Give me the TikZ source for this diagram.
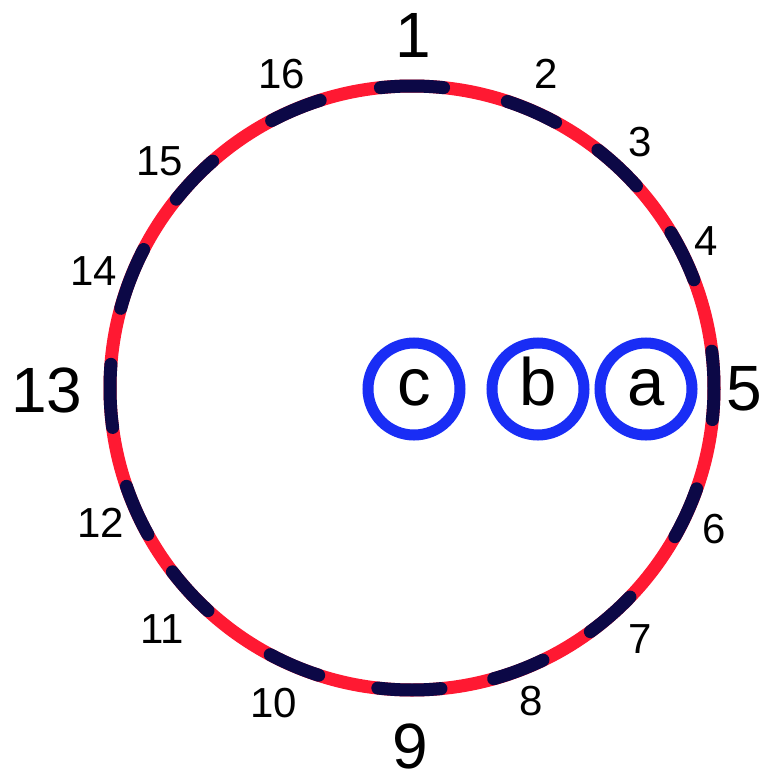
\documentclass[tikz,border=0pt]{standalone}
\usepackage{fontspec}
\setmainfont{Liberation Sans}
\definecolor{ringred}{RGB}{255,25,50}
\definecolor{segdark}{RGB}{12,8,70}
\definecolor{ballblue}{RGB}{25,45,245}
\begin{document}
\begin{tikzpicture}[x=1pt,y=-1pt,
  big/.style={font=\fontsize{64}{64}\selectfont, inner sep=0, anchor=base},
  small/.style={font=\fontsize{42}{42}\selectfont, inner sep=0, anchor=base},
  ball/.style={circle, draw=ballblue, line width=11pt, minimum size=92pt, inner sep=0,
    font=\fontsize{67}{67}\selectfont, text height=32pt, text depth=0pt},
  seg/.style={draw=segdark, line width=13pt, line cap=round}]
\useasboundingbox (0,0) rectangle (765,777);
\coordinate (O) at (412,388);
\draw[ringred, line width=13pt] (O) circle[radius=302];
\foreach \a/\w in {90/12, 66.6/10, 47/10, 26/10, 0.5/13, -24.5/10, -48.8/10, -69.3/10,
  -90.5/12, 247/10, 222.5/10, 204/10, 181.5/12, 158.7/12, 136.3/10, 112.7/10} {
  \pgfmathsetmacro{\sa}{-\a+\w/2}
  \pgfmathsetmacro{\ea}{-\a-\w/2}
  \draw[seg] (O) ++(\sa:302) arc[start angle=\sa, end angle=\ea, radius=302];
}
\node[ball] (c) at (414,389) {c};
\node[ball] (b) at (538,389) {b};
\node[ball] (a) at (646,389) {a};
\node[big] (l1) at (413,57) {1};
\node[small] (l2) at (546,88) {2};
\node[small] (l3) at (640,156) {3};
\node[small] (l4) at (706,255) {4};
\node[big] (l5) at (744,410) {5};
\node[small] (l6) at (714,543) {6};
\node[small] (l7) at (640,653) {7};
\node[small] (l8) at (531,715) {8};
\node[big] (l9) at (410,768) {9};
\node[small] (l10) at (274,717) {10};
\node[small] (l11) at (162,643) {11};
\node[small] (l12) at (101,537) {12};
\node[big] (l13) at (47,412) {13};
\node[small] (l14) at (94,285) {14};
\node[small] (l15) at (160,175) {15};
\node[small] (l16) at (282,88) {16};
\end{tikzpicture}
\end{document}
